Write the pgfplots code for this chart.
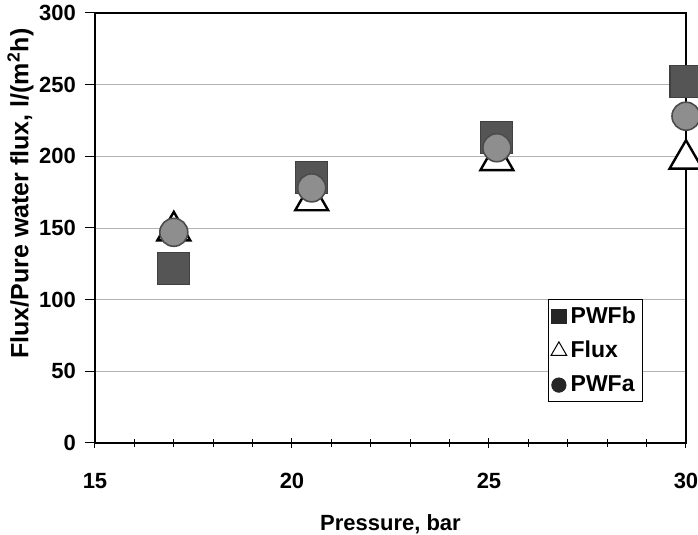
\documentclass[border=0pt]{standalone}
\usepackage{pgfplots}
\pgfplotsset{compat=1.18}
\usepackage{fontspec}
\setmainfont{Liberation Sans}
\definecolor{sqfill}{HTML}{555555}
\definecolor{cifill}{HTML}{8E8E8E}
\begin{document}
\begin{tikzpicture}
\begin{axis}[
    scale only axis,
    width=295.5pt, height=215pt,
    xmin=15, xmax=30, ymin=0, ymax=300,
    xtick={15,20,25,30},
    minor xtick={16,17,18,19,21,22,23,24,26,27,28,29},
    ytick={0,50,...,300},
    xtick align=center, ytick align=outside,
    major tick length=5pt, minor tick length=4pt,
    xtick pos=bottom, ytick pos=left,
    ymajorgrids,
    major grid style={gray!60, line width=0.45pt},
    axis line style={black, line width=0.6pt},
    tick style={black, line width=0.5pt},
    clip=false,
    font=\fontsize{11}{13}\selectfont\bfseries,
    /pgf/number format/assume math mode=true,
    xticklabel style={yshift=-9pt},
    yticklabel style={xshift=-1pt},
    xlabel={Pressure, bar},
    ylabel={Flux/Pure water flux, l/(m$^{\mathbf 2}$h)},
    xlabel style={yshift=-6pt},
    ylabel shift=-4pt,
    ylabel style={at={(ticklabel cs:0.58)}, font=\fontsize{12.5}{14}\selectfont\bfseries},
    legend style={at={(0.766,0.335)}, anchor=north west, draw=black,
        line width=0.4pt, font=\fontsize{11.5}{13}\selectfont\bfseries,
        inner sep=1.5pt, row sep=3.5pt, cells={anchor=west}},
    legend cell align=left,
]
% Flux (triangles) drawn first, behind the others
\addplot[only marks, forget plot, mark=triangle*, mark size=9.5pt,
    mark options={fill=white, draw=black, line width=1.2pt}]
    coordinates {(17,148) (20.5,169) (25.2,197) (30,198)};
% PWFb (squares)
\addplot[only marks, forget plot, mark=square*, mark size=8pt,
    mark options={fill=sqfill, draw=black!75, line width=0.6pt}]
    coordinates {(17,122) (20.5,185) (25.2,213) (30,252)};
% PWFa (circles)
\addplot[only marks, forget plot, mark=*, mark size=7pt,
    mark options={fill=cifill, draw=black!70, line width=0.8pt}]
    coordinates {(17,147) (20.5,178) (25.2,206) (30,228)};
\addlegendimage{only marks, mark=square*, mark size=3.6pt, mark options={fill=black!85, draw=black!85}}
\addlegendentry{PWFb}
\addlegendimage{only marks, mark=triangle, mark size=4.5pt, mark options={draw=black, line width=0.5pt}}
\addlegendentry{Flux}
\addlegendimage{only marks, mark=*, mark size=3.6pt, mark options={fill=black!85, draw=black!85}}
\addlegendentry{PWFa}
\end{axis}
\pgfresetboundingbox
\path (current axis.south west) ++(-47.5pt,-46pt) coordinate (bbA);
\path (current axis.south west) ++(301.5pt,221.5pt) coordinate (bbB);
\useasboundingbox (bbA) rectangle (bbB);
\end{tikzpicture}
\end{document}
